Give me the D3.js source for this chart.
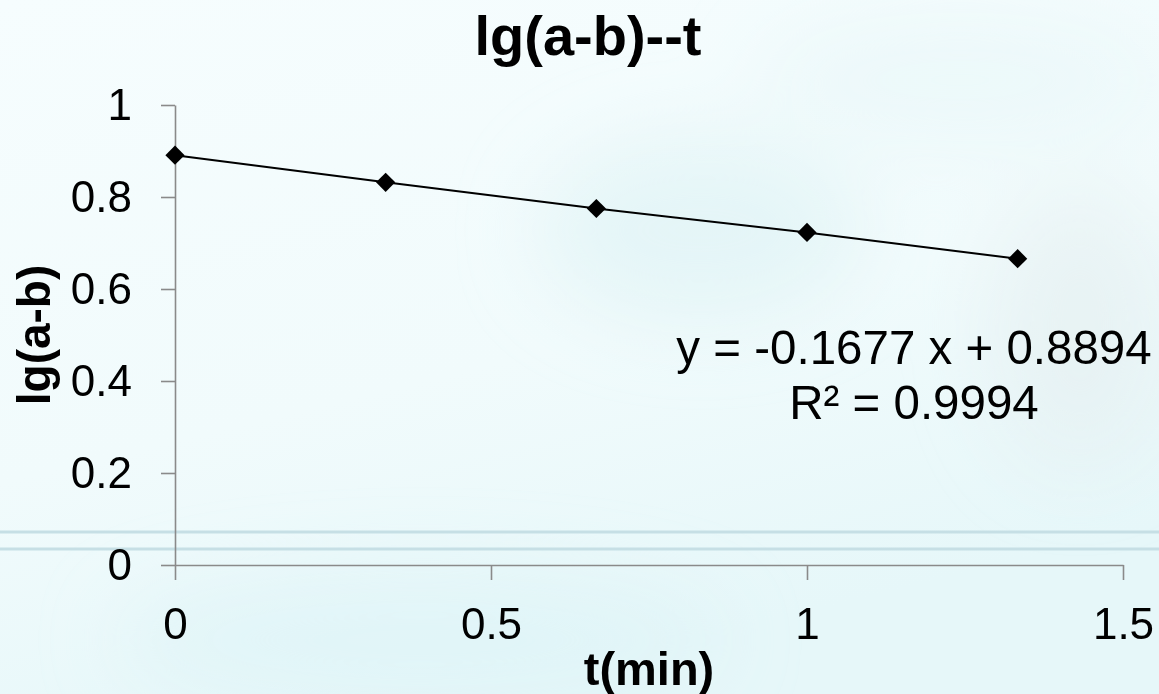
<!DOCTYPE html>
<html>
<head>
<meta charset="utf-8">
<script src="https://cdn.jsdelivr.net/npm/d3@7"></script>
<style>
  html, body { margin: 0; padding: 0; background: #f3fbfc; }
  svg { display: block; }
  .axis path, .axis line { stroke: #8a8a8a; stroke-width: 1.6px; }
  .axis text { font-family: "Liberation Sans", Arial, sans-serif; font-size: 44px; fill: #000; }
</style>
</head>
<body>
<div id="chart"></div>
<script>
///// Data

let timeValues = [0, 0.3333, 0.6667, 1.0, 1.3333];   // t(min)
let lgValues = [0.891, 0.832, 0.775, 0.723, 0.666];  // lg(a-b)
let xTicks = [0, 0.5, 1, 1.5];
let yTicks = [0, 0.2, 0.4, 0.6, 0.8, 1];
let titleText = "lg(a-b)--t";
let xLabel = "t(min)";
let yLabel = "lg(a-b)";
let fitLines = ["y = -0.1677 x + 0.8894", "R\u00b2 = 0.9994"];

///// Canvas

let W = 1159, H = 694;
let margin = { top: 105, right: 36, bottom: 129, left: 175 },
    width = W - margin.left - margin.right,
    height = H - margin.top - margin.bottom;

let x = d3.scaleLinear().domain([0, 1.5]).range([0, 948]);
let y = d3.scaleLinear().domain([0, 1]).range([height, 0]);

let root = d3.select("#chart").append("svg")
    .attr("width", W)
    .attr("height", H);

// background: pale cyan wash with a few soft patches
let defs = root.append("defs");
let bg = defs.append("linearGradient").attr("id", "bg")
    .attr("x1", 0).attr("y1", 0).attr("x2", 0.4).attr("y2", 1);
bg.append("stop").attr("offset", 0).attr("stop-color", "#f6fdfe");
bg.append("stop").attr("offset", 0.6).attr("stop-color", "#f1fbfc");
bg.append("stop").attr("offset", 1).attr("stop-color", "#e6f7f9");
defs.append("filter").attr("id", "blur")
    .append("feGaussianBlur").attr("stdDeviation", 40);

root.append("rect").attr("width", W).attr("height", H).attr("fill", "url(#bg)");

let blobs = root.append("g").attr("filter", "url(#blur)");
blobs.append("ellipse").attr("cx", 700).attr("cy", 230).attr("rx", 160).attr("ry", 90)
    .attr("fill", "#dcf2f4").attr("opacity", 0.6);
blobs.append("ellipse").attr("cx", 1080).attr("cy", 330).attr("rx", 90).attr("ry", 140)
    .attr("fill", "#e4eef0").attr("opacity", 0.6);
blobs.append("ellipse").attr("cx", 420).attr("cy", 640).attr("rx", 300).attr("ry", 60)
    .attr("fill", "#ddf4f6").attr("opacity", 0.7);
blobs.append("ellipse").attr("cx", 960).attr("cy", 80).attr("rx", 200).attr("ry", 60)
    .attr("fill", "#e8f6f8").attr("opacity", 0.6);

// the two thin horizontal rules of the slide
[532, 549].forEach(function(ly) {
    root.append("line")
        .attr("x1", 0).attr("x2", W)
        .attr("y1", ly).attr("y2", ly)
        .attr("stroke", "#c6dfe5")
        .attr("stroke-width", 3);
});

let svg = root.append("g")
    .attr("transform", "translate(" + margin.left + "," + margin.top + ")");

// Y axis
svg.append("g")
    .attr("class", "axis")
    .call(d3.axisLeft(y).tickValues(yTicks).tickSize(14).tickSizeOuter(0).tickPadding(29)
        .tickFormat(d3.format("")));

// X axis
svg.append("g")
    .attr("class", "axis")
    .attr("transform", "translate(0," + height + ")")
    .call(d3.axisBottom(x).tickValues(xTicks).tickSize(15).tickSizeOuter(0).tickPadding(28)
        .tickFormat(d3.format("")));

// series line
let data = timeValues.map(function(t, i) { return { t: t, v: lgValues[i] }; });

let valueline = d3.line()
    .x(function(d) { return x(d.t); })
    .y(function(d) { return y(d.v); });

svg.append("path")
    .datum(data)
    .attr("fill", "none")
    .attr("stroke", "#000")
    .attr("stroke-width", 2)
    .attr("d", valueline);

// diamond markers
svg.selectAll(".pt")
    .data(data)
    .enter().append("path")
    .attr("class", "pt")
    .attr("d", d3.symbol().type(d3.symbolSquare).size(185))
    .attr("transform", function(d) {
        return "translate(" + x(d.t) + "," + y(d.v) + ") rotate(45)";
    })
    .attr("fill", "#000");

// title
root.append("text")
    .attr("x", 588).attr("y", 55)
    .attr("text-anchor", "middle")
    .style("font-family", "Liberation Sans, Arial, sans-serif")
    .style("font-weight", "bold")
    .style("font-size", "56px")
    .text(titleText);

// axis titles
root.append("text")
    .attr("x", 649).attr("y", 685)
    .attr("text-anchor", "middle")
    .style("font-family", "Liberation Sans, Arial, sans-serif")
    .style("font-weight", "bold")
    .style("font-size", "47px")
    .text(xLabel);

root.append("text")
    .attr("transform", "translate(50,335) rotate(-90)")
    .attr("text-anchor", "middle")
    .style("font-family", "Liberation Sans, Arial, sans-serif")
    .style("font-weight", "bold")
    .style("font-size", "46px")
    .text(yLabel);

// trendline equation
root.selectAll(".fit")
    .data(fitLines)
    .enter().append("text")
    .attr("class", "fit")
    .attr("x", 914)
    .attr("y", function(d, i) { return 364 + i * 55; })
    .attr("text-anchor", "middle")
    .style("font-family", "Liberation Sans, Arial, sans-serif")
    .style("font-size", "47.5px")
    .text(function(d) { return d; });
</script>
</body>
</html>
